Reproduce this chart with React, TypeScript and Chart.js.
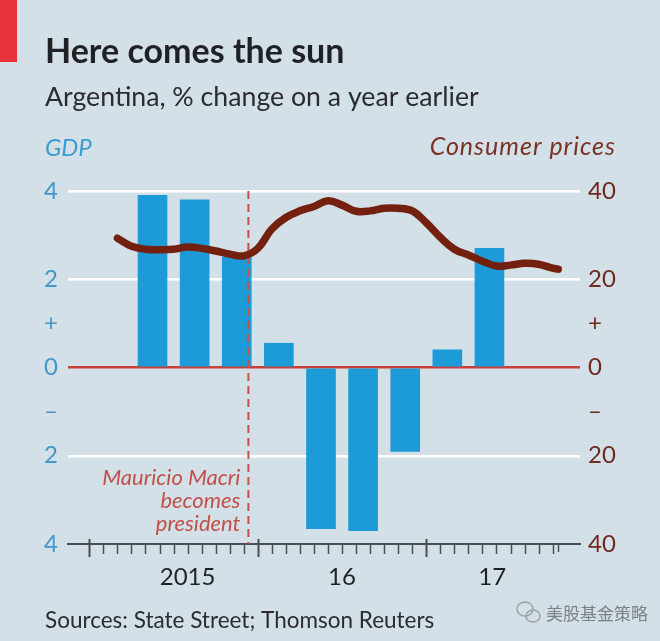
import React, { useEffect, useRef } from "react";
import { Chart, registerables } from "chart.js";

Chart.register(...registerables);

// x values: months since 1 January 2015
const gdpQuarterMid = [4.5, 7.5, 10.5, 13.5, 16.5, 19.5, 22.5, 25.5, 28.5];
const gdpGrowth = [3.9, 3.8, 2.5, 0.55, -3.65, -3.7, -1.9, 0.4, 2.7];

const cpiMonth = [2, 3, 4, 5, 6, 7, 8, 9, 10, 11, 12, 13, 14, 15, 16, 17, 18, 19, 20, 21, 22, 23, 24, 25, 26, 27, 28, 29, 30, 31, 32, 33, 33.4];
const cpiInflation = [29.3, 27.5, 26.8, 26.7, 26.8, 27.3, 27.0, 26.4, 25.7, 25.3, 27.0, 31.4, 34.0, 35.5, 36.5, 37.8, 36.8, 35.4, 35.5, 36.1, 36.1, 35.5, 32.8, 29.5, 26.8, 25.5, 24.1, 23.0, 23.2, 23.6, 23.4, 22.5, 22.3];

const gdpTickValues = [4, 2, 1, 0, -1, -2, -4];
const gdpTickLabels = ["4", "2", "+", "0", "\u2013", "2", "4"];
const cpiTickValues = [40, 20, 10, 0, -10, -20, -40];
const cpiTickLabels = ["40", "20", "+", "0", "\u2013", "20", "40"];

const yearLabels = ["2015", "16", "17"];
const yearLabelPos = [7, 18, 28.7];
const monthTicks = [0, 1, 2, 3, 4, 5, 6, 7, 8, 9, 10, 11, 12, 13, 14, 15, 16, 17, 18, 19, 20, 21, 22, 23, 24, 25, 26, 27, 28, 29, 30, 31, 32, 33];
const dataEndMonth = 33.4;
const macriMonth = 11.33;

const titleText = "Here comes the sun";
const subtitleText = "Argentina, % change on a year earlier";
const leftAxisTitle = "GDP";
const rightAxisTitle = "Consumer prices";
const annotationLines = ["Mauricio Macri", "becomes", "president"];
const sourceText = "Sources: State Street; Thomson Reuters";
const watermarkText = "美股基金策略";

const BG = "#d4e0e8";
const FONT = "Lato, 'Open Sans', sans-serif";

const decorPlugin = {
  id: "decor",
  beforeDraw(chart: any) {
    const { ctx, width, height } = chart;
    ctx.save();
    ctx.fillStyle = BG;
    ctx.fillRect(0, 0, width, height);
    ctx.fillStyle = "#e5323b";
    ctx.fillRect(0, 0, 17, 62);
    ctx.restore();
  },
  afterDatasetDraw(chart: any, args: any) {
    if (args.index !== 0) return;
    const { ctx, chartArea } = chart;
    const x = chart.scales.x.getPixelForValue(macriMonth);
    ctx.save();
    ctx.strokeStyle = "#c8504a";
    ctx.lineWidth = 2;
    ctx.setLineDash([8, 5]);
    ctx.beginPath();
    ctx.moveTo(x, chartArea.top);
    ctx.lineTo(x, chartArea.bottom);
    ctx.stroke();
    ctx.restore();
  },
  afterDraw(chart: any) {
    const { ctx, chartArea } = chart;
    const xs = chart.scales.x;
    const ys = chart.scales.y;
    ctx.save();
    // x-axis tick marks
    ctx.strokeStyle = "#4a4f55";
    monthTicks.forEach((m) => {
      const px = Math.round(xs.getPixelForValue(m)) + 0.5;
      const major = m % 12 === 0;
      ctx.lineWidth = major ? 2 : 1.5;
      ctx.beginPath();
      ctx.moveTo(px, chartArea.bottom - (major ? 5 : 0));
      ctx.lineTo(px, chartArea.bottom + (major ? 13 : 10));
      ctx.stroke();
    });
    {
      const px = Math.round(xs.getPixelForValue(dataEndMonth)) + 0.5;
      ctx.lineWidth = 1.5;
      ctx.beginPath();
      ctx.moveTo(px, chartArea.bottom);
      ctx.lineTo(px, chartArea.bottom + 8);
      ctx.stroke();
    }

    // titles
    ctx.textBaseline = "alphabetic";
    ctx.textAlign = "left";
    ctx.fillStyle = "#1f2125";
    ctx.font = `bold 34px ${FONT}`;
    ctx.fillText(titleText, 45, 63);
    ctx.fillStyle = "#2a2c30";
    ctx.font = `26.7px ${FONT}`;
    ctx.fillText(subtitleText, 45, 106);
    ctx.font = `italic 24px ${FONT}`;
    ctx.fillStyle = "#3a9ccf";
    ctx.fillText(leftAxisTitle, 45, 156);
    ctx.textAlign = "right";
    ctx.fillStyle = "#7a3226";
    ctx.font = `italic 25px ${FONT}`;
    (ctx as any).letterSpacing = "1px";
    ctx.fillText(rightAxisTitle, 616, 155);
    (ctx as any).letterSpacing = "0px";

    // annotation
    const ax = xs.getPixelForValue(macriMonth) - 8;
    ctx.font = `italic 22px ${FONT}`;
    ctx.fillStyle = "#c2504a";
    ctx.textAlign = "right";
    ctx.textBaseline = "middle";
    annotationLines.forEach((t, i) => {
      ctx.fillText(t, ax, ys.getPixelForValue(-2.5) + i * 23);
    });

    // source
    ctx.textAlign = "left";
    ctx.textBaseline = "alphabetic";
    ctx.fillStyle = "#2a2c30";
    ctx.font = `22.5px ${FONT}`;
    ctx.fillText(sourceText, 45, 628);

    // watermark
    ctx.strokeStyle = "#9aa0a5";
    ctx.lineWidth = 1.5;
    ctx.beginPath();
    ctx.ellipse(525, 609, 8, 7, 0, 0, Math.PI * 2);
    ctx.stroke();
    ctx.beginPath();
    ctx.ellipse(533, 616, 7, 6, 0, 0, Math.PI * 2);
    ctx.stroke();
    ctx.font = `17px 'Noto Sans CJK SC', sans-serif`;
    ctx.fillStyle = "#7d8287";
    ctx.fillText(watermarkText, 546, 620);
    ctx.restore();
  },
};

export default function App() {
  const ref = useRef<HTMLCanvasElement | null>(null);
  useEffect(() => {
    document.body.style.margin = "0";
    document.body.style.background = BG;
    const canvas = ref.current;
    if (!canvas) return;
    const chart = new Chart(canvas, {
      type: "bar",
      data: {
        datasets: [
          {
            type: "bar",
            label: "GDP",
            data: gdpQuarterMid.map((x, i) => ({ x, y: gdpGrowth[i] })),
            backgroundColor: "#1c9bd8",
            borderWidth: 0,
            barThickness: 29,
            yAxisID: "y",
            order: 2,
          } as any,
          {
            type: "line",
            label: "Consumer prices",
            data: cpiMonth.map((x, i) => ({ x, y: cpiInflation[i] })),
            borderColor: "#74200f",
            borderWidth: 7.5,
            tension: 0.4,
            pointRadius: 0,
            borderCapStyle: "round",
            borderJoinStyle: "round",
            fill: false,
            yAxisID: "y2",
            order: 1,
          } as any,
        ],
      },
      options: {
        responsive: false,
        animation: false,
        events: [],
        layout: { padding: { top: 191, left: 0, right: 0, bottom: 0 } },
        plugins: { legend: { display: false }, tooltip: { enabled: false }, title: { display: false } },
        scales: {
          x: {
            type: "linear",
            position: "bottom",
            offset: false,
            min: -1.52,
            max: 34.95,
            afterBuildTicks: (s: any) => {
              s.ticks = yearLabelPos.map((v) => ({ value: v }));
            },
            afterFit: (s: any) => {
              s.height = 97;
            },
            ticks: {
              autoSkip: false,
              maxRotation: 0,
              padding: 19,
              color: "#1f2125",
              font: { family: FONT, size: 24 },
              callback: (_v: any, i: number) => yearLabels[i],
            },
            grid: { display: false, drawTicks: false, offset: false },
            border: { display: true, color: "#4a4f55", width: 2 },
          },
          y: {
            type: "linear",
            position: "left",
            min: -4,
            max: 4,
            afterBuildTicks: (s: any) => {
              s.ticks = gdpTickValues.map((v) => ({ value: v }));
            },
            afterFit: (s: any) => {
              s.width = 68;
            },
            ticks: {
              padding: 10,
              color: "#4397c9",
              font: { family: FONT, size: 24 },
              callback: (v: any) => {
                const i = gdpTickValues.indexOf(Number(v));
                return i >= 0 ? gdpTickLabels[i] : "";
              },
            },
            grid: {
              drawTicks: false,
              color: (c: any) => {
                const v = c.tick ? c.tick.value : null;
                if (v === 0) return "#c8423a";
                if (v === 2 || v === -2 || v === 4) return "#ffffff";
                return "rgba(0,0,0,0)";
              },
              lineWidth: 2.5,
            },
            border: { display: false },
          },
          y2: {
            type: "linear",
            position: "right",
            min: -40,
            max: 40,
            afterBuildTicks: (s: any) => {
              s.ticks = cpiTickValues.map((v) => ({ value: v }));
            },
            afterFit: (s: any) => {
              s.width = 80;
            },
            ticks: {
              padding: 8,
              color: "#6e2a1f",
              font: { family: FONT, size: 24 },
              callback: (v: any) => {
                const i = cpiTickValues.indexOf(Number(v));
                return i >= 0 ? cpiTickLabels[i] : "";
              },
            },
            grid: { display: false, drawTicks: false },
            border: { display: false },
          },
        },
      },
      plugins: [decorPlugin],
    });
    return () => chart.destroy();
  }, []);
  return (
    <div style={{ width: 660, height: 641, background: BG }}>
      <canvas ref={ref} width={660} height={641} style={{ display: "block", width: 660, height: 641 }} />
    </div>
  );
}
